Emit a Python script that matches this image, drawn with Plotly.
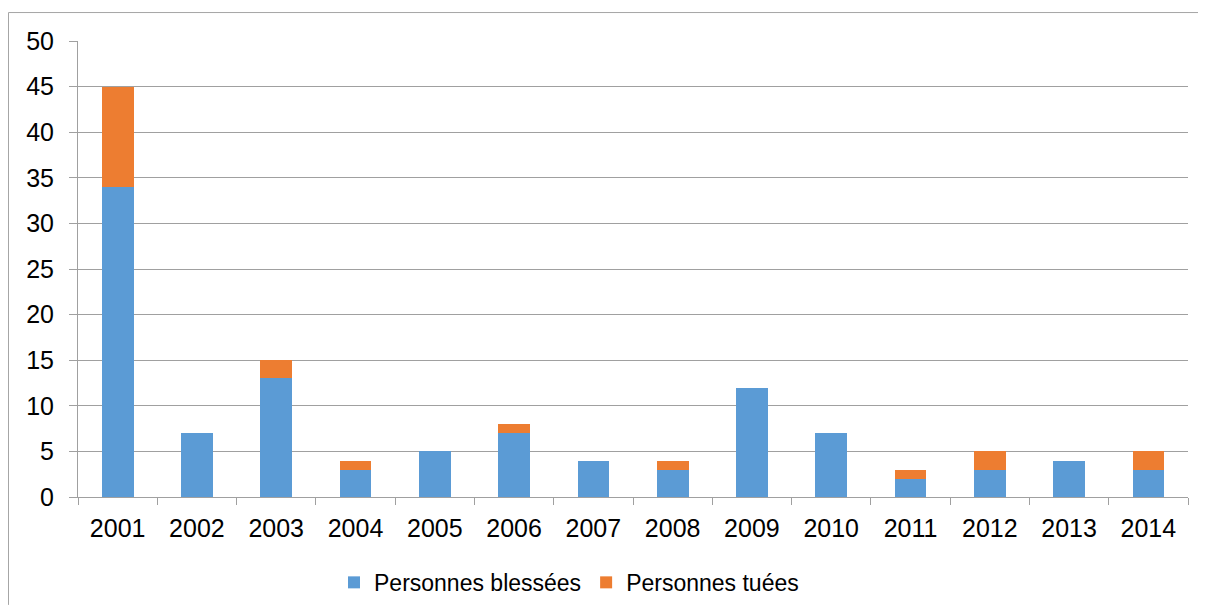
import plotly.graph_objects as go

years = ["2001", "2002", "2003", "2004", "2005", "2006", "2007",
         "2008", "2009", "2010", "2011", "2012", "2013", "2014"]
blessees = [34, 7, 13, 3, 5, 7, 4, 3, 12, 7, 2, 3, 4, 3]
tuees = [11, 0, 2, 1, 0, 1, 0, 1, 0, 0, 1, 2, 0, 2]
y_ticks = [0, 5, 10, 15, 20, 25, 30, 35, 40, 45, 50]

OFF = 8  # page body margin
W, H = 1207 - 2 * OFF, 614 - 2 * OFF
PL, PR, PT, PB = 78, 1188, 41, 497.5  # plot area in window pixels
L, T = PL - OFF, PT - OFF
R = W - (PR - OFF)
B = H - (PB - OFF)
pw, ph = PR - PL, PB - PT

def px(x):
    return (x - PL) / pw

def py(y):
    return (PB - y) / ph

fig = go.Figure()
fig.add_trace(go.Bar(x=years, y=blessees, name="Personnes blessées",
                     marker=dict(color="#5B9BD5", line=dict(width=0))))
fig.add_trace(go.Bar(x=years, y=tuees, name="Personnes tuées",
                     marker=dict(color="#ED7D31", line=dict(width=0))))

font = "Liberation Sans, Arial, sans-serif"
FS = 25
border_path = "M {:.5f},{:.5f} L {:.5f},{:.5f} L {:.5f},{:.5f}".format(
    px(8.5), py(605.5), px(8.5), py(12.5), px(1198), py(12.5))

fig.update_layout(
    width=W, height=H,
    barmode="stack", bargap=0.6,
    margin=dict(l=L, r=R, t=T, b=B, autoexpand=False),
    paper_bgcolor="white", plot_bgcolor="white",
    font=dict(family=font, size=FS, color="#000000"),
    showlegend=True,
    legend=dict(orientation="h", x=px(569), xanchor="center",
                y=py(583), yanchor="middle",
                font=dict(family=font, size=23, color="#000000"),
                itemwidth=30, traceorder="normal"),
    xaxis=dict(type="category", showgrid=False, showline=True,
               linecolor="#A0A0A0", linewidth=1,
               ticks="outside", ticklen=7, tickcolor="#A0A0A0",
               tickson="boundaries", tickfont=dict(size=FS),
               ticklabelstandoff=9),
    yaxis=dict(range=[0, 50], tickvals=y_ticks, showgrid=True,
               gridcolor="#A0A0A0", gridwidth=1, showline=True,
               linecolor="#A0A0A0", linewidth=1, zeroline=False,
               ticks="outside", ticklen=8, tickcolor="#A0A0A0",
               tickfont=dict(size=FS), ticklabelstandoff=10),
    shapes=[
        dict(type="path", xref="paper", yref="paper", path=border_path,
             fillcolor="rgba(0,0,0,0)",
             line=dict(color="#A6A6A6", width=1)),
    ],
)

fig.write_html("out.html")
